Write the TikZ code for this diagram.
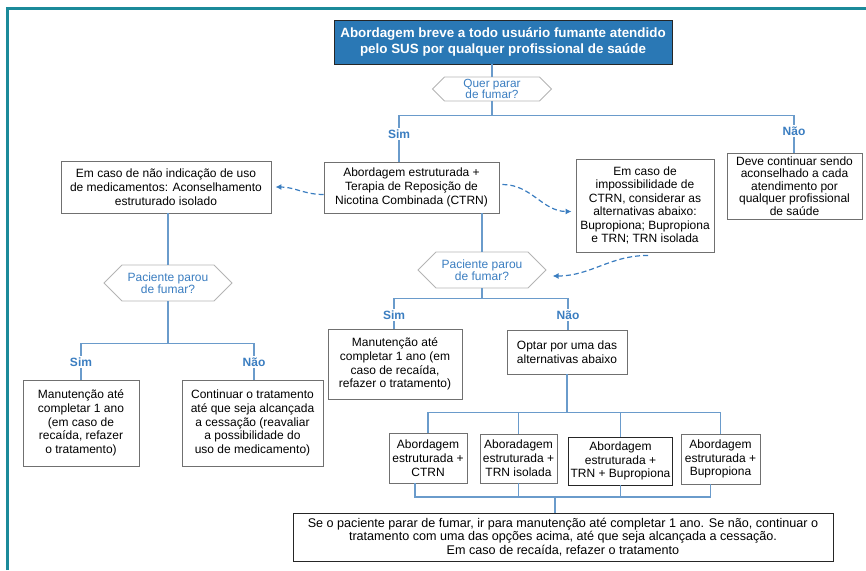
\documentclass[tikz,border=0pt]{standalone}
\usepackage{fontspec}
\setmainfont{Liberation Sans}
\usetikzlibrary{arrows.meta, shapes.symbols}

\definecolor{framecol}{HTML}{1B8A9A}
\definecolor{titleblue}{HTML}{2A78B5}
\definecolor{labelblue}{HTML}{3A7DC0}
\definecolor{lineblue}{HTML}{6A9BCB}
\definecolor{boxgray}{HTML}{707070}
\definecolor{hexgray}{HTML}{B4B4B4}

\begin{document}
\begin{tikzpicture}[x=1pt, y=-1pt, >={Latex[length=6pt, width=6pt]},
  every node/.style={font=\fontsize{12}{13.8}\selectfont, align=center, inner sep=2pt},
  box/.style={draw=boxgray, line width=0.9pt},
  darkbox/.style={draw=black!85, line width=0.9pt},
  hexa/.style={signal, signal to=west and east, signal pointer angle=90,
    draw=hexgray, line width=0.8pt, text=labelblue, inner sep=1pt,
    font=\fontsize{12}{12.5}\selectfont},
  answer/.style={text=labelblue, inner sep=1.5pt, font=\bfseries\fontsize{12}{13}\selectfont},
  link/.style={draw=lineblue, line width=1.1pt},
  dasharrow/.style={->, draw=labelblue, line width=1.2pt, dash pattern=on 5pt off 3pt}]

\useasboundingbox (0,0) rectangle (866,570);
\draw[framecol, line width=3pt] (7,570) -- (7,8) -- (866,8);

% top of the chart
  \node[darkbox, fill=titleblue, text=white, minimum width=338pt, minimum height=44pt,
    font=\bfseries\fontsize{13.4}{16.5}\selectfont] (title) at (503,42)
{Abordagem breve a todo usuário fumante atendido\\pelo SUS por qualquer profissional de saúde};
  \node[hexa, minimum width=119pt, minimum height=24pt,
    font=\fontsize{11.8}{11.5}\selectfont] (quer) at (492,89)
{Quer parar\\de fumar?};
  \node[answer] (sim1) at (399,134) {Sim};
  \node[answer] (nao1) at (794,131) {Não};

% second row
  \node[box, minimum width=210pt, minimum height=52pt] (naoInd) at (166,187)
{Em caso de não indicação de uso\\de medicamentos: Aconselhamento\\estruturado isolado};
  \node[box, minimum width=175pt, minimum height=51pt] (ctrn) at (411.5,187.5)
{Abordagem estruturada +\\Terapia de Reposição de\\Nicotina Combinada (CTRN)};
  \node[box, minimum width=138pt, minimum height=93pt,
    font=\fontsize{12}{13.4}\selectfont] (impos) at (645,205.5)
{Em caso de\\impossibilidade de\\CTRN, considerar as\\alternativas abaixo:\\Bupropiona; Bupropiona\\e TRN; TRN isolada};
  \node[box, minimum width=135pt, minimum height=66pt,
    font=\fontsize{12}{12.6}\selectfont] (deve) at (794.5,186)
{Deve continuar sendo\\aconselhado a cada\\atendimento por\\qualquer profissional\\de saúde};

% decisions
  \node[hexa, minimum width=128pt, minimum height=36pt] (pL) at (168,283)
{Paciente parou\\de fumar?};
  \node[hexa, minimum width=128pt, minimum height=36pt] (pR) at (482,270)
{Paciente parou\\de fumar?};
  \node[answer] (sim2) at (81,362) {Sim};
  \node[answer] (nao2) at (254,362) {Não};
  \node[answer] (sim3) at (394,315) {Sim};
  \node[answer] (nao3) at (568,315) {Não};

% left branch
  \node[box, minimum width=116pt, minimum height=86pt] (simL) at (81,423)
{Manutenção até\\completar 1 ano\\(em caso de\\recaída, refazer\\o tratamento)};
  \node[box, minimum width=141pt, minimum height=86pt] (naoL) at (252.5,423)
{Continuar o tratamento\\até que seja alcançada\\a cessação (reavaliar\\a possibilidade do\\uso de medicamento)};

% right branch
  \node[box, minimum width=134pt, minimum height=70pt] (manutR) at (395,364)
{Manutenção até\\completar 1 ano (em\\caso de recaída,\\refazer o tratamento)};
  \node[box, minimum width=120pt, minimum height=44pt] (optar) at (567,352)
{Optar por uma das\\alternativas abaixo};
  \node[box, minimum width=78pt, minimum height=50pt] (alt1) at (428,458)
{Abordagem\\estruturada +\\CTRN};
  \node[box, minimum width=77pt, minimum height=49pt] (alt2) at (518.5,458.5)
{Aboradagem\\estruturada +\\TRN isolada};
  \node[darkbox, minimum width=103pt, minimum height=48pt] (alt3) at (620.5,461)
{Abordagem\\estruturada +\\TRN + Bupropiona};
  \node[box, minimum width=79pt, minimum height=50pt] (alt4) at (720.5,459)
{Abordagem\\estruturada +\\Bupropiona};
  \node[darkbox, minimum width=540pt, minimum height=48pt,
    font=\fontsize{12.6}{13.6}\selectfont] (final) at (563,537)
{Se o paciente parar de fumar, ir para manutenção até completar 1 ano. Se não, continuar o\\tratamento com uma das opções acima, até que seja alcançada a cessação.\\Em caso de recaída, refazer o tratamento};
  \coordinate (join) at (555,497);

% define the links
  \draw[link] (quer.north |- title.south) -- (quer.north);
  \draw[link] (quer.south) -- ++(0,14) -| (sim1);
  \draw[link] (quer.south) ++(0,14) -| (nao1);
  \draw[link] (sim1) -- (sim1 |- ctrn.north);
  \draw[link] (nao1) -- (nao1 |- deve.north);
  \draw[link] (pL.north |- naoInd.south) -- (pL.north);
  \draw[link] (pR.north |- ctrn.south) -- (pR.north);
  \draw[link] (pL.south) -- ++(0,42) -| (sim2);
  \draw[link] (pL.south) ++(0,42) -| (nao2);
  \draw[link] (sim2) -- (sim2 |- simL.north);
  \draw[link] (nao2) -- (nao2 |- naoL.north);
  \draw[link] (pR.south) -- ++(0,10) -| (sim3);
  \draw[link] (pR.south) ++(0,10) -| (nao3);
  \draw[link] (sim3) -- (sim3 |- manutR.north);
  \draw[link] (nao3) -- (nao3 |- optar.north);
  \draw[link] (optar.south) -- ++(0,38) -| (alt1);
  \draw[link] (optar.south) ++(0,38) -| (alt2);
  \draw[link] (optar.south) ++(0,38) -| (alt3);
  \draw[link] (optar.south) ++(0,38) -| (alt4);
  \draw[link] ([xshift=-13pt]alt1.south) |- (join);
  \draw[link] (alt2.south) |- (join);
  \draw[link] (alt3.south) |- (join);
  \draw[link] ([xshift=-10pt]alt4.south) |- (join);
  \draw[link] (join) -- (join |- final.north);

% dashed hints
  \draw[dasharrow] ([yshift=-7pt]ctrn.west) to[out=180, in=0] ([xshift=4pt]naoInd.east);
  \draw[dasharrow] ([xshift=3pt, yshift=3pt]ctrn.east) to[out=0, in=180] ([xshift=-4pt, yshift=-6pt]impos.west);
  \draw[dasharrow] ([xshift=3pt, yshift=-3pt]impos.south) to[out=180, in=0] ([xshift=6pt, yshift=-6pt]pR.east);

\end{tikzpicture}
\end{document}
